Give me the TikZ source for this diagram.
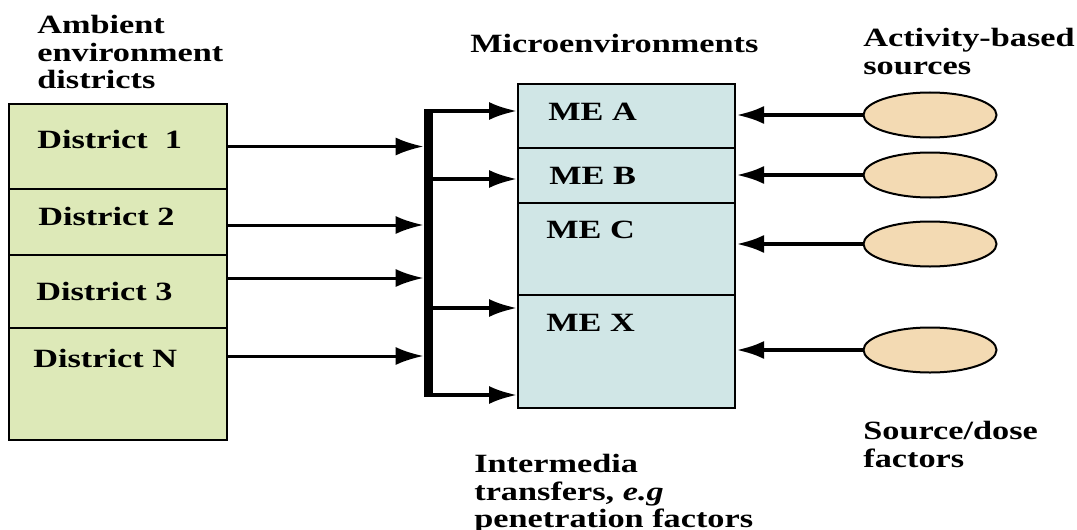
\documentclass[tikz,border=0pt]{standalone}
\usepackage{fontspec}
\setmainfont{Liberation Serif}[FakeStretch=1.3]
\usetikzlibrary{arrows.meta,shapes.geometric}
\definecolor{districtgreen}{HTML}{DDE9B8}
\definecolor{mecyan}{HTML}{D0E6E6}
\definecolor{sourcetan}{HTML}{F3DAB3}

\begin{document}
\begin{tikzpicture}[x=0.2mm,y=-0.2mm,
    district/.style ={rectangle, draw, fill=districtgreen, line width=0.4mm, inner sep=0pt, minimum width=43.6mm},
    micro/.style ={rectangle, draw, fill=mecyan, line width=0.4mm, inner sep=0pt, minimum width=43.4mm},
    source/.style ={ellipse, draw, fill=sourcetan, line width=0.4mm, inner sep=0pt, minimum width=26.6mm, minimum height=9mm},
    caption/.style ={font=\fontsize{15}{15.6}\selectfont\bfseries, inner sep=0pt, align=left, anchor=north west},
    boxtext/.style ={font=\fontsize{15}{15.6}\selectfont\bfseries, inner sep=0pt, anchor=base west},
    arr/.style ={-{Latex[length=5.6mm,width=3.6mm]}, line width=0.6mm}]
   \useasboundingbox (0,0) rectangle (1077,529);

   % districts
   \node[district, minimum height=17mm] (D1) at (118,146.5) {};
   \node[district, minimum height=13.2mm] (D2) at (118,222) {};
   \node[district, minimum height=14.6mm] (D3) at (118,291.5) {};
   \node[district, minimum height=22.4mm] (DN) at (118,384) {};
   \node[boxtext] (D1text) at (37,148) {District~~1};
   \node[boxtext] (D2text) at (38,225) {District 2};
   \node[boxtext] (D3text) at (36,300) {District 3};
   \node[boxtext] (DNtext) at (33,367) {District N};

   % microenvironments
   \node[micro, minimum height=12.8mm] (MEA) at (626.5,116) {};
   \node[micro, minimum height=11mm] (MEB) at (626.5,175.5) {};
   \node[micro, minimum height=18.4mm] (MEC) at (626.5,249) {};
   \node[micro, minimum height=22.6mm] (MEX) at (626.5,351.5) {};
   \node[boxtext] (MEAtext) at (548,121) {ME A};
   \node[boxtext] (MEBtext) at (549,184) {ME B};
   \node[boxtext] (MECtext) at (546,238) {ME C};
   \node[boxtext] (MEXtext) at (546,331) {ME X};

   % sources
   \node[source] (S1) at (930,115) {};
   \node[source] (S2) at (930,175) {};
   \node[source] (S3) at (930,244) {};
   \node[source] (S4) at (930,350) {};

   % intermedia bar
   \node[rectangle, fill, inner sep=0pt, minimum width=1.8mm, minimum height=57.6mm] (bus) at (428.5,253) {};

   % captions
   \node[caption] (ambient) at (37,15) {Ambient\\environment\\districts};
   \node[caption] (micro) at (470,34) {Microenvironments};
   \node[caption] (activity) at (863,28) {Activity-based\\sources};
   \node[caption] (dose) at (863,421) {Source/dose\\factors};
   \node[caption] (intermedia) at (474,454) {Intermedia\\transfers, \textit{e.g}\\penetration factors};

   % district arrows
   \path ([yshift=-0.6mm]D2.east) coordinate (d2out)
         ([yshift=2.7mm]D3.east) coordinate (d3out)
         ([yshift=5.6mm]DN.east) coordinate (dNout);
   \draw[arr] (D1.east) -- (D1.east -| bus.west);
   \draw[arr] (d2out) -- (d2out -| bus.west);
   \draw[arr] (d3out) -- (d3out -| bus.west);
   \draw[arr] (dNout) -- (dNout -| bus.west);

   % bar arrows
   \path ([yshift=1mm]MEA.west) coordinate (mA)
         ([yshift=-0.7mm]MEB.west) coordinate (mB)
         ([yshift=8.7mm]MEX.west) coordinate (mX1)
         ([yshift=-8.7mm]MEX.west) coordinate (mX2);
   \draw[arr, line width=0.7mm] (bus.center |- mA) -- (mA);
   \draw[arr, line width=0.7mm] (bus.center |- mB) -- (mB);
   \draw[arr, line width=0.7mm] (bus.center |- mX1) -- (mX1);
   \draw[arr, line width=0.7mm] (bus.center |- mX2) -- (mX2);

   % source arrows
   \draw[arr, line width=0.9mm] (S1.west) -- (S1.west -| MEA.east);
   \draw[arr, line width=0.9mm] (S2.west) -- (S2.west -| MEB.east);
   \draw[arr, line width=0.9mm] (S3.west) -- (S3.west -| MEC.east);
   \draw[arr, line width=0.9mm] (S4.west) -- (S4.west -| MEX.east);
\end{tikzpicture}
\end{document}
